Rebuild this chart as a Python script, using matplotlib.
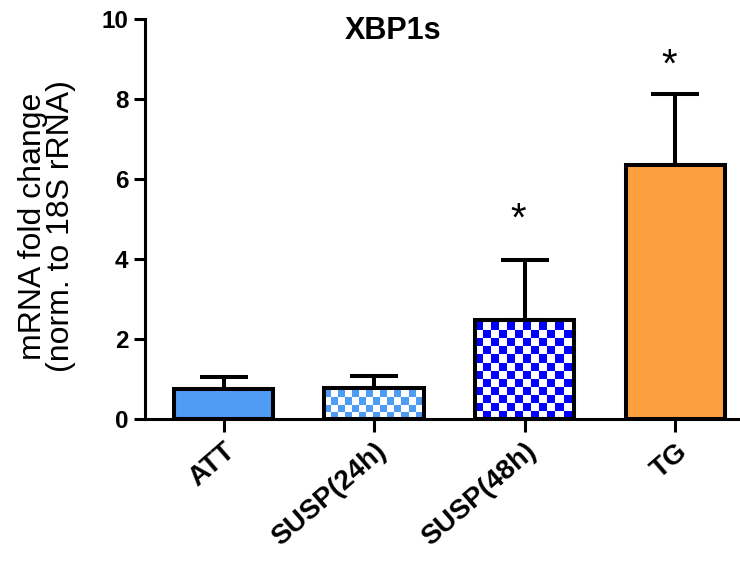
import numpy as np
import matplotlib
matplotlib.use("Agg")
import matplotlib.pyplot as plt
from matplotlib.colors import ListedColormap

categories = ["ATT", "SUSP(24h)", "SUSP(48h)", "TG"]
means = [0.75, 0.78, 2.48, 6.35]
errors = [0.30, 0.29, 1.50, 1.77]
star_heights = [None, None, 4.98, 8.83]
yticks = [0, 2, 4, 6, 8, 10]

fills = ["#4f9cf5", "checker_light", "checker_dark", "#fca03f"]
checker_colors = {"checker_light": "#4f9cf5", "checker_dark": "#0000ff"}
checker_px = {"checker_light": 7.0, "checker_dark": 8.0}

plt.rcParams['font.family'] = ['Liberation Sans', 'DejaVu Sans']

W, H, DPI = 740, 561, 100
fig = plt.figure(figsize=(W / DPI, H / DPI), dpi=DPI)
ax = fig.add_axes([145 / W, (H - 419) / H, 1 - 145 / W, (419 - 19) / H])

x = np.arange(len(categories))
xlim = (-0.522, 3.43)
ylim = (0, 10)
ax.set_xlim(*xlim)
ax.set_ylim(*ylim)

bar_w = 0.66
lw = 2.9
face = [f if f.startswith("#") else "none" for f in fills]
bars = ax.bar(x, means, width=bar_w, color=face, edgecolor="black",
              linewidth=lw, zorder=3)

# pixel scale for checker sizes
px_per_x = (W - 145) / (xlim[1] - xlim[0])
px_per_y = (419 - 19) / (ylim[1] - ylim[0])

for b, f in zip(bars, fills):
    if f in checker_colors:
        x0 = b.get_x()
        w = b.get_width()
        h = b.get_height()
        cx = checker_px[f] / px_per_x
        cy = checker_px[f] / px_per_y
        nx = int(np.ceil(w / cx))
        ny = int(np.ceil(h / cy))
        arr = (np.add.outer(np.arange(ny), np.arange(nx)) % 2).astype(float)
        cmap = ListedColormap(["white", checker_colors[f]])
        im = ax.imshow(arr, cmap=cmap, interpolation="nearest", origin="lower",
                       extent=(x0, x0 + nx * cx, 0, ny * cy), aspect="auto",
                       vmin=0, vmax=1, zorder=2.8)
        im.set_clip_path(b)

ax.set_xlim(*xlim)
ax.set_ylim(*ylim)

ax.errorbar(x, means, yerr=[np.zeros(len(means)), errors], fmt="none",
            ecolor="black", elinewidth=lw, capsize=17.5, capthick=lw, zorder=2.5)

for xi, sh in zip(x, star_heights):
    if sh is not None:
        ax.text(xi - 0.04, sh, "*", ha="center", va="center",
                fontsize=29, color="black")

for side in ["top", "right"]:
    ax.spines[side].set_visible(False)
for side in ["left", "bottom"]:
    ax.spines[side].set_linewidth(2.2)

ax.set_yticks(yticks)
ax.set_yticklabels([str(t) for t in yticks], fontsize=17.5, fontweight="bold")
ax.set_xticks(x)
ax.set_xticklabels(categories, fontsize=20, fontweight="bold", rotation=41,
                   ha="right", va="top", rotation_mode="anchor")
ax.tick_params(axis="both", width=2.2, length=8, pad=4)
ax.tick_params(axis="x", length=9, pad=5)

fig.text(47 / W, 1 - 226 / H, "mRNA fold change\n(norm. to 18S rRNA)",
         rotation=90, ha="center", va="center", fontsize=23, linespacing=0.95)
fig.text(393 / W, 1 - 31 / H, "XBP1s", ha="center", va="center",
         fontsize=22, fontweight="bold")

fig.savefig("out.png", dpi=DPI)
